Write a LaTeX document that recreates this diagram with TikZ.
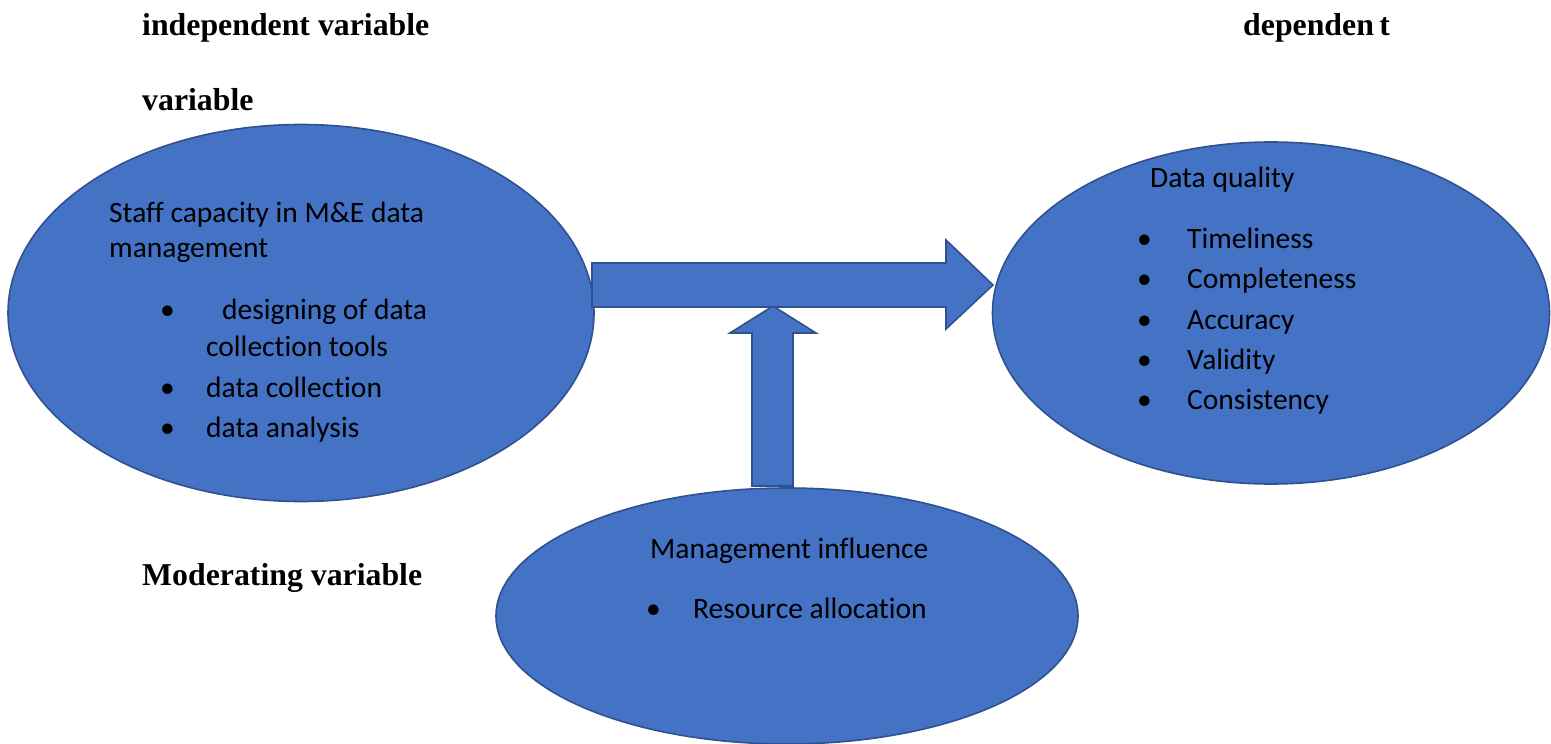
\documentclass[tikz,border=0pt]{standalone}
\usepackage{fontspec}
\setmainfont{Carlito}[Ligatures=NoCommon]
\newfontfamily\headfont{Liberation Serif}
\usetikzlibrary{shapes.geometric}
\definecolor{shapefill}{HTML}{4472C4}
\definecolor{shapeline}{HTML}{2F528F}
\begin{document}
\begin{tikzpicture}[x=1pt,y=-1pt,
  oval/.style={ellipse, fill=shapefill, draw=shapeline, line width=1.6pt, inner sep=0pt},
  blockarrow/.style={fill=shapefill, draw=shapeline, line width=1.6pt, line join=miter},
  body/.style={inner sep=0pt, anchor=base west, font=\fontsize{29.5}{36}\selectfont},
  head/.style={inner sep=0pt, anchor=base west, font=\headfont\bfseries\fontsize{31.8}{38}\selectfont}]
\useasboundingbox (0,0) rectangle (1551,744);

% ovals
\node[oval, minimum width=586pt, minimum height=377pt] (staff) at (301,313) {};
\node[oval, minimum width=557pt, minimum height=342pt] (quality) at (1271,313) {};

% influence arrow (up) and main arrow (right)
\coordinate (uptip) at (773,306);
\draw[blockarrow] (752,486) -- (752,333) -- (730,333) -- (uptip) -- (816,333) -- (793,333) -- (793,486) -- cycle;
\node[oval, minimum width=582pt, minimum height=256pt] (mgmt) at (787,616) {};
\coordinate (tip) at (993,285);
\draw[blockarrow] (592,263) -- (946,263) -- (946,240) -- (tip) -- (946,329) -- (946,307) -- (592,307) -- cycle;

% headings
\node[head] (hind) at (142,35) {independent variable};
\node[head] (hvar) at (142,110) {variable};
\node[head] (hdep) at (1243,35) {dependen\,t};
\node[head] (hmod) at (142,585) {Moderating variable};

% staff capacity
\node[body] (s1) at (109,222) {Staff capacity in M\&E data};
\node[body] (s2) at (109,257) {management};
\node[body] (b1) at (160,319) {•};
\node[body] (t1) at (222,319) {designing of data};
\node[body] (t1b) at (206,356) {collection tools};
\node[body] (b2) at (160,397) {•};
\node[body] (t2) at (206,397) {data collection};
\node[body] (b3) at (160,437) {•};
\node[body] (t3) at (206,437) {data analysis};

% data quality
\node[body] (q0) at (1150,187) {Data quality};
\node[body] (qb1) at (1137,248) {•};
\node[body] (q1) at (1187,248) {Timeliness};
\node[body] (qb2) at (1137,288) {•};
\node[body] (q2) at (1187,288) {Completeness};
\node[body] (qb3) at (1137,329) {•};
\node[body] (q3) at (1187,329) {Accuracy};
\node[body] (qb4) at (1137,369) {•};
\node[body] (q4) at (1187,369) {Validity};
\node[body] (qb5) at (1137,409) {•};
\node[body] (q5) at (1187,409) {Consistency};

% management influence
\node[body] (m0) at (650,558) {Management influence};
\node[body] (mb1) at (646,618) {•};
\node[body] (m1) at (693,618) {Resource allocation};
\end{tikzpicture}
\end{document}
